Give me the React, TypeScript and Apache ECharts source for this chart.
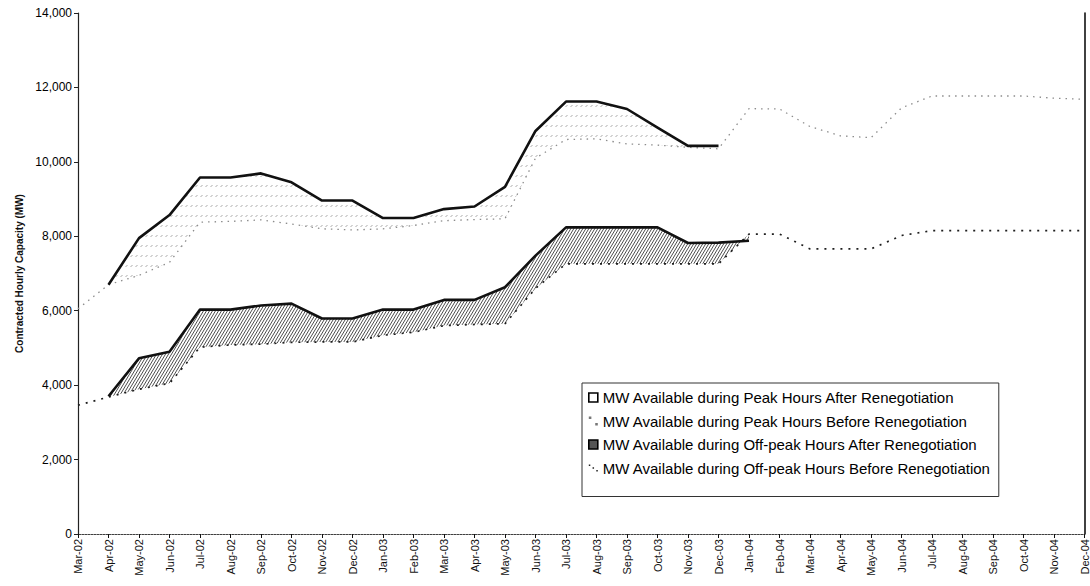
import React, { useEffect, useRef } from "react";
import * as echarts from "echarts";

// Monthly categories, Mar-02 through Dec-04
const months = [
  "Mar-02", "Apr-02", "May-02", "Jun-02", "Jul-02", "Aug-02", "Sep-02", "Oct-02",
  "Nov-02", "Dec-02", "Jan-03", "Feb-03", "Mar-03", "Apr-03", "May-03", "Jun-03",
  "Jul-03", "Aug-03", "Sep-03", "Oct-03", "Nov-03", "Dec-03", "Jan-04", "Feb-04",
  "Mar-04", "Apr-04", "May-04", "Jun-04", "Jul-04", "Aug-04", "Sep-04", "Oct-04",
  "Nov-04", "Dec-04",
];

// Contracted hourly capacity (MW)
const peakAfter = [
  null, 6700, 7950, 8570, 9580, 9580, 9690, 9450, 8960, 8960, 8490, 8490, 8730,
  8800, 9330, 10830, 11620, 11620, 11420, 10920, 10430, 10430, null, null, null,
  null, null, null, null, null, null, null, null, null,
];
const peakBefore = [
  6050, 6700, 6950, 7300, 8380, 8400, 8440, 8330, 8200, 8170, 8200, 8290, 8420,
  8450, 8470, 10100, 10600, 10620, 10480, 10450, 10390, 10350, 11430, 11420, 10950,
  10700, 10650, 11450, 11770, 11770, 11770, 11770, 11710, 11680,
];
const offPeakAfter = [
  null, 3700, 4720, 4900, 6030, 6030, 6140, 6190, 5790, 5790, 6030, 6030, 6290,
  6290, 6630, 7480, 8240, 8240, 8240, 8240, 7820, 7830, 7880, null, null, null,
  null, null, null, null, null, null, null, null,
];
const offPeakBefore = [
  3460, 3680, 3890, 4050, 5020, 5080, 5100, 5150, 5160, 5160, 5340, 5420, 5600,
  5630, 5650, 6600, 7260, 7260, 7260, 7260, 7260, 7260, 8060, 8060, 7660, 7660,
  7660, 8020, 8150, 8150, 8150, 8150, 8150, 8150,
];

const PEAK_AFTER = "MW Available during Peak Hours After Renegotiation";
const PEAK_BEFORE = "MW Available during Peak Hours Before Renegotiation";
const OFF_AFTER = "MW Available during Off-peak Hours After Renegotiation";
const OFF_BEFORE = "MW Available during Off-peak Hours Before Renegotiation";

const FONT = "'Liberation Sans', Arial, Helvetica, sans-serif";

// Dense diagonal hatching for the off-peak gain band
function diagonalHatch(w: number, h: number, color: string, width: number) {
  const c = document.createElement("canvas");
  c.width = w;
  c.height = h;
  const ctx = c.getContext("2d")!;
  ctx.strokeStyle = color;
  ctx.lineWidth = width;
  ctx.beginPath();
  for (const dx of [-w, 0, w]) {
    ctx.moveTo(dx, h);
    ctx.lineTo(dx + w, 0);
  }
  ctx.stroke();
  return c;
}

// Light stippled dashes for the peak gain band
function stipple(w: number, h: number, color: string) {
  const c = document.createElement("canvas");
  c.width = w;
  c.height = h;
  const ctx = c.getContext("2d")!;
  ctx.strokeStyle = color;
  ctx.lineWidth = 1;
  ctx.beginPath();
  ctx.moveTo(0.5, h * 0.6 + 1);
  ctx.lineTo(2.5, h * 0.6 - 1);
  ctx.stroke();
  return c;
}

function bandSeries(upper: (number | null)[], lower: (number | null)[], fill: any) {
  return {
    type: "custom",
    coordinateSystem: "cartesian2d",
    xAxisIndex: 0,
    yAxisIndex: 0,
    silent: true,
    z: 1,
    data: [[0, 0]],
    encode: { x: 0, y: 1 },
    renderItem: (_params: any, api: any) => {
      const idx: number[] = [];
      upper.forEach((v, i) => {
        if (v != null && lower[i] != null) idx.push(i);
      });
      const pts = idx.map((i) => api.coord([i, upper[i]]));
      for (let k = idx.length - 1; k >= 0; k--) {
        pts.push(api.coord([idx[k], lower[idx[k]]]));
      }
      return {
        type: "polygon",
        shape: { points: pts },
        style: { fill, stroke: null },
      };
    },
  };
}

export default function App() {
  const ref = useRef<HTMLDivElement>(null);

  useEffect(() => {
    if (!ref.current) return;
    const chart = echarts.init(ref.current, null, { renderer: "svg" });

    const offHatch = {
      image: diagonalHatch(3, 5, "#3a3a3a", 0.9),
      repeat: "repeat",
      imageWidth: 3,
      imageHeight: 5,
    };
    const peakDots = {
      image: stipple(5, 10, "#a8a8a8"),
      repeat: "repeat",
      imageWidth: 5,
      imageHeight: 10,
    };

    chart.setOption({
      animation: false,
      backgroundColor: "#ffffff",
      textStyle: { fontFamily: FONT },
      grid: { left: 78, right: 3, top: 13, bottom: 52, containLabel: false },
      legend: {
        orient: "vertical",
        left: 582,
        top: 383,
        padding: [6, 8, 20, 6],
        itemGap: 6.5,
        itemWidth: 9,
        itemHeight: 9,
        backgroundColor: "#ffffff",
        borderColor: "#333333",
        borderWidth: 1,
        textStyle: { fontSize: 15, color: "#000", fontFamily: FONT, lineHeight: 17 },
        selectedMode: false,
        data: [
          {
            name: PEAK_AFTER,
            icon: "rect",
            itemStyle: { color: "#ffffff", borderColor: "#000", borderWidth: 1.6 },
          },
          {
            name: PEAK_BEFORE,
            icon: "path://M0,0h2v2h-2z M5,5h2v2h-2z",
            itemStyle: { color: "#777777", borderWidth: 0 },
          },
          {
            name: OFF_AFTER,
            icon: "rect",
            itemStyle: { color: "#555555", borderColor: "#000", borderWidth: 1.6 },
          },
          {
            name: OFF_BEFORE,
            icon: "path://M0,2h1.6v1.6h-1.6z M4,5h1.6v1.6h-1.6z M8,8h1.6v1.6h-1.6z",
            itemStyle: { color: "#222222", borderWidth: 0 },
          },
        ],
      },
      xAxis: [
        {
          type: "category",
          data: months,
          boundaryGap: false,
          axisLine: { lineStyle: { color: "#111", width: 1 } },
          axisTick: { show: true, length: 4, interval: 0, lineStyle: { color: "#111" } },
          axisLabel: {
            rotate: 90,
            interval: 0,
            fontSize: 11,
            color: "#111",
            margin: 5,
            fontFamily: FONT,
          },
          splitLine: { show: false },
        },
        {
          type: "category",
          data: months,
          boundaryGap: false,
          position: "top",
          axisLine: { lineStyle: { color: "#8a8a8a", width: 1, type: [1, 2] } },
          axisTick: { show: false },
          axisLabel: { show: false },
          splitLine: { show: false },
        },
      ],
      yAxis: [
        {
          type: "value",
          min: 0,
          max: 14000,
          interval: 2000,
          name: "Contracted Hourly Capacity (MW)",
          nameLocation: "middle",
          nameGap: 52,
          nameTextStyle: { fontSize: 10, fontWeight: "bold", color: "#111", fontFamily: FONT },
          axisLine: { show: true, lineStyle: { color: "#222", width: 1.2 } },
          axisTick: { show: true, length: 4, lineStyle: { color: "#222" } },
          axisLabel: {
            fontSize: 12,
            color: "#000",
            margin: 6,
            fontFamily: FONT,
            formatter: (v: number) => v.toLocaleString("en-US"),
          },
          splitLine: { show: false },
        },
        {
          type: "value",
          min: 0,
          max: 14000,
          interval: 2000,
          position: "right",
          axisLine: { show: true, lineStyle: { color: "#111", width: 1.6 } },
          axisTick: { show: false },
          axisLabel: { show: false },
          splitLine: { show: false },
        },
      ],
      series: [
        bandSeries(peakAfter, peakBefore, peakDots),
        bandSeries(offPeakAfter, offPeakBefore, offHatch),
        {
          name: PEAK_BEFORE,
          type: "line",
          data: peakBefore,
          symbol: "none",
          z: 3,
          lineStyle: { color: "#8c8c8c", width: 1.3, type: [1.5, 5] },
          itemStyle: { color: "#8c8c8c" },
        },
        {
          name: OFF_BEFORE,
          type: "line",
          data: offPeakBefore,
          symbol: "none",
          z: 3,
          lineStyle: { color: "#1e1e1e", width: 1.7, type: [2, 6] },
          itemStyle: { color: "#1e1e1e" },
        },
        {
          name: PEAK_AFTER,
          type: "line",
          data: peakAfter,
          symbol: "none",
          z: 4,
          lineStyle: { color: "#111", width: 2.6, join: "round" },
          itemStyle: { color: "#111" },
        },
        {
          name: OFF_AFTER,
          type: "line",
          data: offPeakAfter,
          symbol: "none",
          z: 4,
          lineStyle: { color: "#111", width: 2.6, join: "round" },
          itemStyle: { color: "#111" },
        },
      ],
    });

    return () => chart.dispose();
  }, []);

  return (
    <div
      ref={ref}
      style={{ position: "fixed", left: 0, top: 0, width: 1090, height: 586, background: "#fff" }}
    />
  );
}
